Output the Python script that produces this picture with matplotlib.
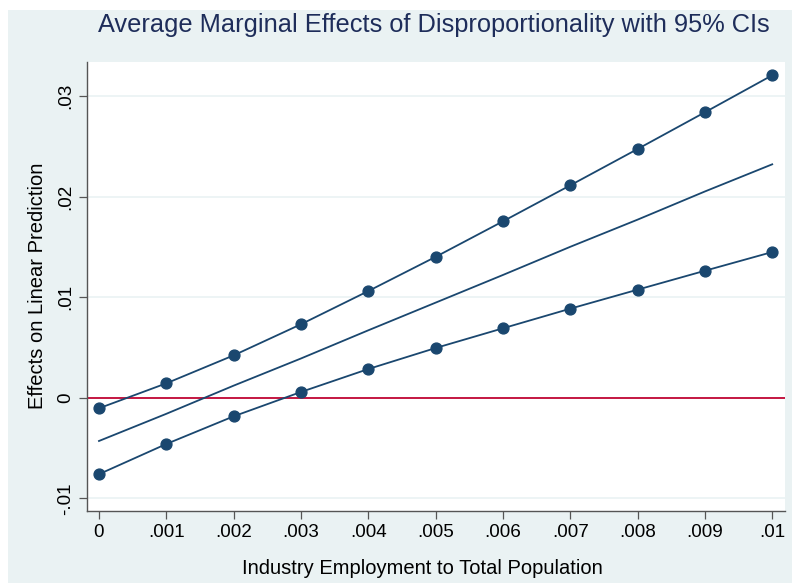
import numpy as np
import matplotlib as mpl
import matplotlib.pyplot as plt
from matplotlib.patches import Rectangle

mpl.rcParams['font.family'] = ['Liberation Sans', 'DejaVu Sans']

# share of industry employment in total population
emp_share = [0, .001, .002, .003, .004, .005, .006, .007, .008, .009, .01]
# average marginal effect and 95% bounds
ame = [-0.0043, -0.0016, 0.0012, 0.0039, 0.0067, 0.00945,
       0.0122, 0.0150, 0.0177, 0.0205, 0.0232]
ci_upper = [-0.00105, 0.00143, 0.00421, 0.0073, 0.0106, 0.0140,
            0.01753, 0.02111, 0.02472, 0.02837, 0.03205]
ci_lower = [-0.0076, -0.0046, -0.00185, 0.00057, 0.00285, 0.00494,
            0.0069, 0.00885, 0.01074, 0.01262, 0.01448]

x_ticks = [0, .001, .002, .003, .004, .005, .006, .007, .008, .009, .01]
x_labels = ['0', '.001', '.002', '.003', '.004', '.005', '.006', '.007',
            '.008', '.009', '.01']
y_ticks = [-.01, 0, .01, .02, .03]
y_labels = ['-.01', '0', '.01', '.02', '.03']

navy = '#1a476f'
bg = '#eaf2f3'
W, H = 792, 583

fig = plt.figure(figsize=(W / 100, H / 100), dpi=100, facecolor='white')
fig.patches.append(Rectangle((8 / W, 0), 1 - 8 / W, 1 - 10 / H,
                             transform=fig.transFigure, facecolor=bg,
                             edgecolor='none', zorder=-10))

ax = fig.add_axes([87 / W, 1 - 511 / H, (785 - 87) / W, (511 - 62) / H])
ax.set_facecolor('white')
ax.set_xlim(-0.000178, 0.01019)
ax.set_ylim(-0.01126, 0.03337)

for v in y_ticks:
    ax.axhline(v, color=bg, linewidth=1.2, zorder=1)
ax.axhline(0, color='#c10534', linewidth=1.3, zorder=2)

ax.plot(emp_share, ci_upper, color=navy, linewidth=1.3, marker='o',
        markersize=7.8, zorder=3)
ax.plot(emp_share, ci_lower, color=navy, linewidth=1.3, marker='o',
        markersize=7.8, zorder=3)
ax.plot(emp_share, ame, color=navy, linewidth=1.3, zorder=3)

for side in ['top', 'right']:
    ax.spines[side].set_visible(False)
for side in ['left', 'bottom']:
    ax.spines[side].set_color('#555555')
    ax.spines[side].set_linewidth(1.0)

ax.set_xticks(x_ticks)
ax.set_xticklabels(x_labels, fontsize=13.6)
ax.set_yticks(y_ticks)
ax.set_yticklabels(y_labels, fontsize=13.6, rotation=90, va='center')
ax.tick_params(axis='both', direction='out', length=5.5, width=0.9,
               color='#555555', labelcolor='black', pad=4)

ax.set_xlabel('Industry Employment to Total Population', fontsize=14.5,
              va='center')
ax.xaxis.set_label_coords(0.4807, -0.127)
ax.set_ylabel('Effects on Linear Prediction', fontsize=14.5, va='center')
ax.yaxis.set_label_coords(-0.0716, 0.502)

fig.text(433.5 / W, 1 - 25 / H,
         'Average Marginal Effects of Disproportionality with 95% CIs',
         fontsize=18.3, color='#1e2d5a', ha='center', va='center')

fig.savefig('out.png', dpi=100, facecolor='white')
